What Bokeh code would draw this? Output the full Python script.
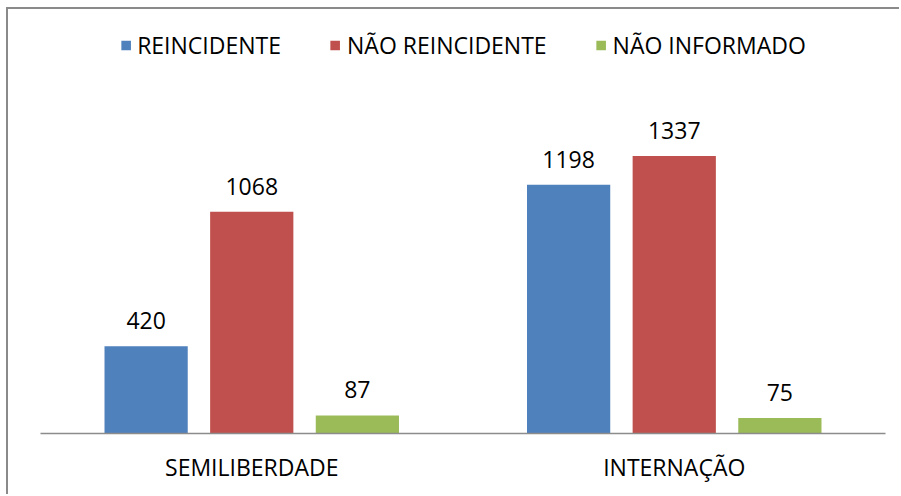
from bokeh.plotting import figure
from bokeh.models import ColumnDataSource, FactorRange, Range1d, Legend, LegendItem, LabelSet
from bokeh.core.properties import value
from bokeh.transform import dodge
from bokeh.embed import file_html
from bokeh.resources import INLINE

categories = ["SEMILIBERDADE", "INTERNAÇÃO"]
series_names = ["REINCIDENTE", "NÃO REINCIDENTE", "NÃO INFORMADO"]
reincidente = [420, 1198]
nao_reincidente = [1068, 1337]
nao_informado = [87, 75]
colors = ["#4F81BD", "#C0504D", "#9BBB59"]
offsets = [-0.25, 0.0, 0.25]

FONT = "Open Sans"

src = ColumnDataSource(dict(cat=categories, s0=reincidente, s1=nao_reincidente, s2=nao_informado,
                            t0=[str(v) for v in reincidente],
                            t1=[str(v) for v in nao_reincidente],
                            t2=[str(v) for v in nao_informado]))

p = figure(width=893, height=487, x_range=FactorRange(factors=categories, range_padding=0),
           y_range=Range1d(0, 2043), output_backend="svg", toolbar_location=None,
           min_border_left=32, min_border_right=16, min_border_top=0, min_border_bottom=63)
p.styles = {"border-top": "2px solid #8a8a8a", "border-left": "2px solid #8a8a8a",
            "margin-left": "6px", "margin-top": "7px"}
p.outline_line_color = None
p.xgrid.visible = False
p.ygrid.visible = False
p.yaxis.visible = False

items = []
for i, (name, col) in enumerate(zip(series_names, colors)):
    r = p.vbar(x=dodge("cat", offsets[i], range=p.x_range), top="s%d" % i, width=0.197,
               source=src, color=col, line_color=None)
    items.append(LegendItem(label=name, renderers=[r]))
    lbl = LabelSet(x=dodge("cat", offsets[i], range=p.x_range), y="s%d" % i, text="t%d" % i,
                   source=src, text_align="center", text_baseline="alphabetic", y_offset=17,
                   text_font=value(FONT), text_font_size="23px", text_color="#000000")
    p.add_layout(lbl)

legend = Legend(items=items, location="top_center", orientation="horizontal",
                border_line_color=None, background_fill_alpha=0, padding=0, margin=20,
                glyph_width=12, glyph_height=12, label_standoff=6, spacing=48,
                label_text_font=FONT, label_text_font_size="23px", label_text_color="#000000")
p.add_layout(legend)

ax = p.xaxis[0]
ax.axis_line_color = "#8c8c8c"
ax.axis_line_width = 1.5
ax.major_tick_line_color = None
ax.minor_tick_line_color = None
ax.major_tick_out = 0
ax.major_label_standoff = 17
ax.major_label_text_font = FONT
ax.major_label_text_font_size = "23px"
ax.major_label_text_color = "#000000"

open("out.html", "w").write(file_html(p, INLINE))
